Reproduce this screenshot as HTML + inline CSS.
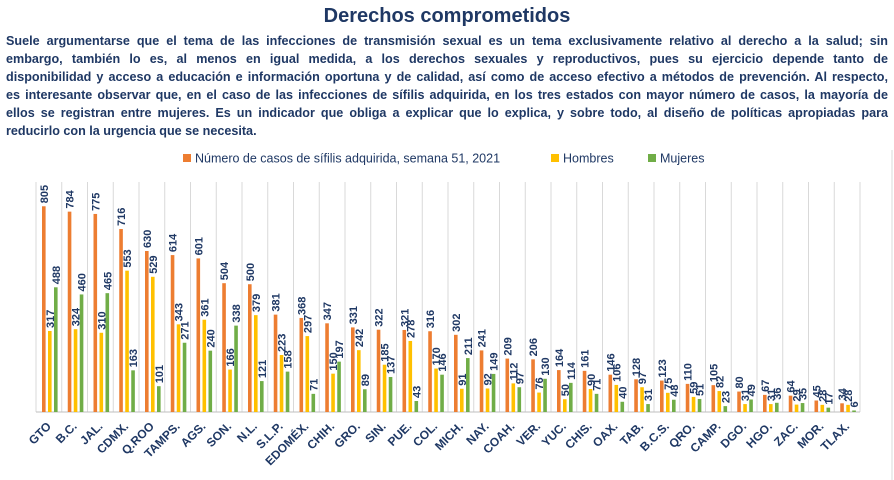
<!DOCTYPE html>
<html><head><meta charset="utf-8">
<style>
body{margin:0;width:894px;height:480px;background:#fff;font-family:"Liberation Sans",sans-serif;overflow:hidden;position:relative}
#title{position:absolute;left:0;top:5px;width:894px;text-align:center;font-size:20px;font-weight:bold;color:#1F3864}
#para{position:absolute;left:6px;top:32px;width:882px;font-size:12.6px;line-height:18px;font-weight:bold;color:#1F3864}
#para span{display:block;text-align:justify;text-align-last:justify;white-space:nowrap;overflow:visible}
#para span.last{text-align-last:left}
#chart{position:absolute;left:0;top:0}
</style></head><body>
<div id="title">Derechos comprometidos</div>
<div id="para"><span style="white-space:normal">Suele argumentarse que el tema de las infecciones de transmisión sexual es un tema exclusivamente relativo al derecho a la salud; sin</span><span style="white-space:normal">embargo, también lo es, al menos en igual medida, a los derechos sexuales y reproductivos, pues su ejercicio depende tanto de</span><span style="white-space:normal">disponibilidad y acceso a educación e información oportuna y de calidad, así como de acceso efectivo a métodos de prevención. Al respecto,</span><span style="white-space:normal">es interesante observar que, en el caso de las infecciones de sífilis adquirida, en los tres estados con mayor número de casos, la mayoría de</span><span style="white-space:normal">ellos se registran entre mujeres. Es un indicador que obliga a explicar que lo explica, y sobre todo, al diseño de políticas apropiadas para</span><span class="last">reducirlo con la urgencia que se necesita.</span></div>
<svg id="chart" width="894" height="480"></svg>
<script>
const categories=["GTO","B.C.","JAL.","CDMX.","Q.ROO","TAMPS.","AGS.","SON.","N.L.","S.L.P.","EDOMÉX.","CHIH.","GRO.","SIN.","PUE.","COL.","MICH.","NAY.","COAH.","VER.","YUC.","CHIS.","OAX.","TAB.","B.C.S.","QRO.","CAMP.","DGO.","HGO.","ZAC.","MOR.","TLAX."];
const totalCases=[805,784,775,716,630,614,601,504,500,381,368,347,331,322,321,316,302,241,209,206,164,161,146,128,123,110,105,80,67,64,45,34];
const menCases=[317,324,310,553,529,343,361,166,379,223,297,150,242,185,278,170,91,92,112,76,50,90,106,97,75,59,82,31,31,29,28,28];
const womenCases=[488,460,465,163,101,271,240,338,121,158,71,197,89,137,43,146,211,149,97,130,114,71,40,31,48,51,23,49,36,35,17,6];
const seriesNames=["Número de casos de sífilis adquirida, semana 51, 2021","Hombres","Mujeres"];
const yMax=900;
const svg=document.getElementById('chart');
const NS="http://www.w3.org/2000/svg";
const L=36,R=860,B=412,T=182;
const step=(R-L)/categories.length;
function xs(i){return L+i*step;}
function ys(v){return B-(v/yMax)*(B-T);}
function mk(tag,attrs){const e=document.createElementNS(NS,tag);for(const k in attrs)e.setAttribute(k,attrs[k]);svg.appendChild(e);return e;}
const colors=["#ED7D31","#FFC000","#70AD47"];
const series=[totalCases,menCases,womenCases];
for(let i=0;i<=categories.length;i++){
  const g=mk('line',{x1:xs(i),x2:xs(i),y1:T,y2:B,stroke:'#D9D9D9','stroke-width':1});
  
  
}
const ax=mk('line',{x1:L,x2:R,y1:B,y2:B,stroke:'#BFBFBF','stroke-width':1});


categories.forEach((c,i)=>{
  series.forEach((s,k)=>{
    const bx=xs(i)+6+k*6;
    const r=mk('rect',{x:bx,y:ys(s[i]),width:3.6,height:B-ys(s[i]),fill:colors[k]});
    
    
    const tx=bx+2+4, ty=ys(s[i])-3;
    const t=mk('text',{x:tx,y:ty,transform:`rotate(-90 ${tx} ${ty})`,'font-size':'11','font-weight':'bold',fill:'#1F3864','font-family':'Liberation Sans, sans-serif'});
    t.textContent=s[i];
    
    
  });
  const lx=xs(i)+step/2+3, ly=B+15;
  const t=mk('text',{x:lx,y:ly,transform:`rotate(-45 ${lx} ${ly})`,'text-anchor':'end','font-size':'12','font-weight':'bold',fill:'#1F3864','font-family':'Liberation Sans, sans-serif'});
  t.textContent=c;
  
  
});
const lgX=[183,551,648];
seriesNames.forEach((n,k)=>{
  const r=mk('rect',{x:lgX[k],y:154,width:8,height:8,fill:colors[k]});
  
  
  const t=mk('text',{x:lgX[k]+12,y:162.5,'font-size':'12.5',fill:'#1F3864','font-family':'Liberation Sans, sans-serif'});
  t.textContent=n;
  
  
});
const fr=mk('line',{x1:892,x2:892,y1:150,y2:480,stroke:'#D9D9D9','stroke-width':1});


</script>
</body></html>
